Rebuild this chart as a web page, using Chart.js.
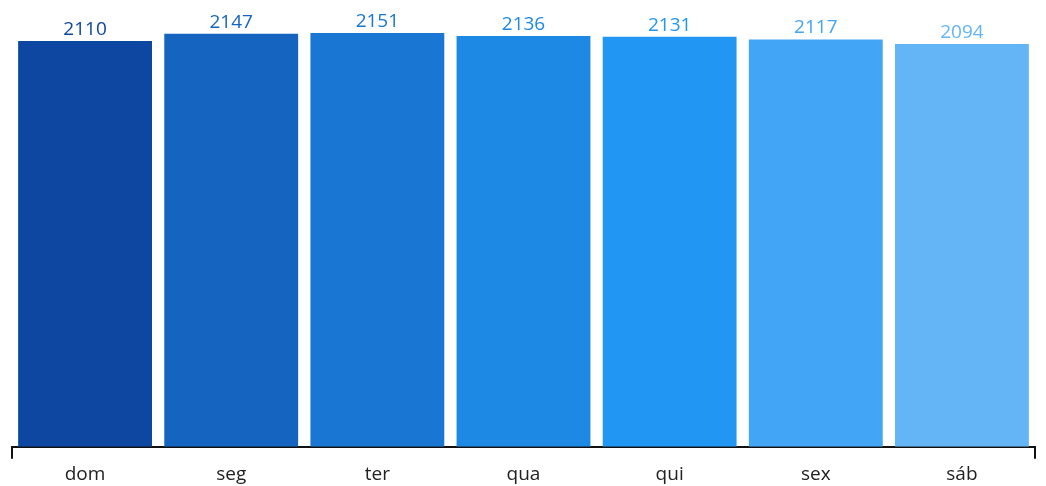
<!DOCTYPE html>
<html>
<head>
<meta charset="utf-8">
<script src="https://cdn.jsdelivr.net/npm/chart.js@4"></script>
<style>
    html, body { margin: 0; padding: 0; background: #fff; }
    #wrap { width: 1046px; height: 486px; }
</style>
</head>
<body>
<div id="wrap"><canvas id="weekdayChart"></canvas></div>
<script>
const days = ['dom', 'seg', 'ter', 'qua', 'qui', 'sex', 'sáb'];
const counts = [2110, 2147, 2151, 2136, 2131, 2117, 2094];
const barColors = ['#0D47A1', '#1565C0', '#1976D2', '#1E88E5', '#2196F3', '#42A5F5', '#64B5F6'];

Chart.defaults.font.family = "'Open Sans', sans-serif";

// value labels above each bar, same colour as the bar
const valueLabels = {
    id: 'valueLabels',
    afterDatasetsDraw(chart) {
        const ctx = chart.ctx;
        const meta = chart.getDatasetMeta(0);
        ctx.save();
        ctx.font = "19px 'Open Sans', sans-serif";
        ctx.textAlign = 'center';
        ctx.textBaseline = 'bottom';
        meta.data.forEach((bar, i) => {
            ctx.fillStyle = barColors[i];
            ctx.fillText(counts[i], bar.x, bar.y - 2);
        });
        ctx.restore();
    }
};

new Chart(document.getElementById('weekdayChart').getContext('2d'), {
    type: 'bar',
    data: {
        labels: days,
        datasets: [{
            data: counts,
            backgroundColor: barColors,
            borderWidth: 0,
            categoryPercentage: 1,
            barPercentage: 0.916
        }]
    },
    plugins: [valueLabels],
    options: {
        responsive: true,
        maintainAspectRatio: false,
        animation: false,
        layout: { padding: { top: 33, left: 12, right: 11, bottom: -4 } },
        scales: {
            y: {
                display: false,
                min: 0,
                max: 2151
            },
            x: {
                offset: true,
                border: { display: true, color: '#111', width: 2 },
                grid: {
                    offset: true,
                    drawOnChartArea: false,
                    drawTicks: true,
                    tickLength: 12,
                    lineWidth: 2,
                    // only the two outer ends get a tick mark
                    color: ctx => (ctx.index === 0 || ctx.index === undefined) ? '#111' : 'rgba(0,0,0,0)'
                },
                ticks: {
                    color: '#222',
                    font: { size: 19, lineHeight: 0.8 },
                    padding: 8
                }
            }
        },
        plugins: {
            legend: { display: false },
            tooltip: { enabled: false }
        }
    }
});
</script>
</body>
</html>
